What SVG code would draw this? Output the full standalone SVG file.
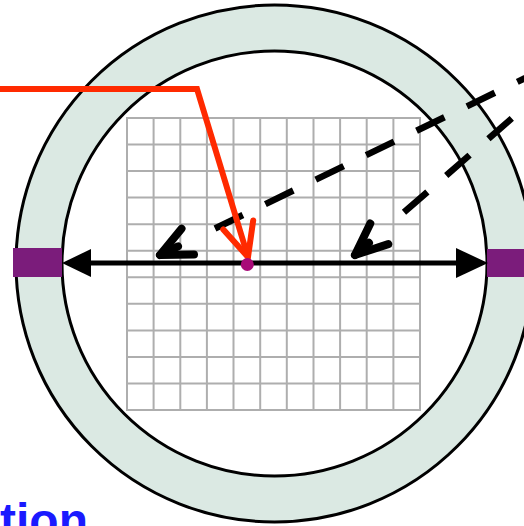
<svg xmlns="http://www.w3.org/2000/svg" width="524" height="526" viewBox="0 0 524 526">
  <defs>
    <style>
      .ring { fill: #dbe9e3; stroke: #000; stroke-width: 3; }
      .hole { fill: #fff; stroke: #000; stroke-width: 3; }
      .pad { fill: #7b1c7b; }
      .grid { fill: none; stroke: #aeaeae; stroke-width: 2; }
      .dash { fill: none; stroke: #000; stroke-width: 6.5; stroke-dasharray: 31 25; }
      .chev { fill: none; stroke: #000; stroke-width: 8; stroke-linecap: round; stroke-linejoin: round; }
      .red { fill: none; stroke: #ff2a00; stroke-width: 6; stroke-linejoin: miter; }
      .label { font-family: "Liberation Sans", Arial, sans-serif; font-weight: bold; font-size: 48px; fill: #1a1aff; }
    </style>
  </defs>
  <rect width="524" height="526" fill="#fff"/>
  <g id="wafer">
    <circle class="ring" cx="274.5" cy="263.5" r="258.5"/>
    <circle class="hole" cx="274.5" cy="263.5" r="212.5"/>
  </g>
  <g id="pad-left"><rect class="pad" x="13" y="248" width="49" height="29"/></g>
  <g id="pad-right"><rect class="pad" x="487" y="249" width="40" height="28"/></g>
  <g id="grid">
    <rect class="grid" x="127" y="118" width="293" height="292"/>
    <path class="grid" d="M153.6 118V410M180.3 118V410M206.9 118V410M233.5 118V410M260.2 118V410M286.8 118V410M313.5 118V410M340.1 118V410M366.7 118V410M393.4 118V410
      M127 144.5H420M127 171.1H420M127 197.6H420M127 224.2H420M127 250.7H420M127 277.3H420M127 303.8H420M127 330.4H420M127 356.9H420M127 383.5H420"/>
  </g>
  <g id="connectors">
    <g id="diameter">
      <line x1="88" y1="263" x2="460" y2="263" stroke="#000" stroke-width="5"/>
      <polygon points="62,263 91,249 91,277" fill="#000"/>
      <polygon points="488,263 456,248 456,278" fill="#000"/>
    </g>
    <g id="dashed-1">
      <line class="dash" x1="215" y1="228.5" x2="574" y2="54.4"/>
      <polyline class="chev" points="181.5,228.7 160,255 194,254.5"/>
      <line class="chev" x1="160" y1="255" x2="178" y2="246.3"/>
    </g>
    <g id="dashed-2">
      <line class="dash" x1="404" y1="212.3" x2="581" y2="58"/>
      <polyline class="chev" points="370.3,223.5 355,255 388.3,244.1"/>
      <line class="chev" x1="355" y1="255" x2="369" y2="242.8"/>
    </g>
    <g id="red-pointer">
      <polyline class="red" points="-5,89 197,89 246.5,252"/>
      <polyline class="red" points="223.3,229.5 248,257 253.2,220.4" stroke-width="7" stroke-linecap="round"/>
    </g>
  </g>
  <g id="center-dot"><circle cx="247.3" cy="264.5" r="6.5" fill="#a80a78"/></g>
  <g id="caption"><text class="label" x="0" y="537">tion</text></g>
</svg>
